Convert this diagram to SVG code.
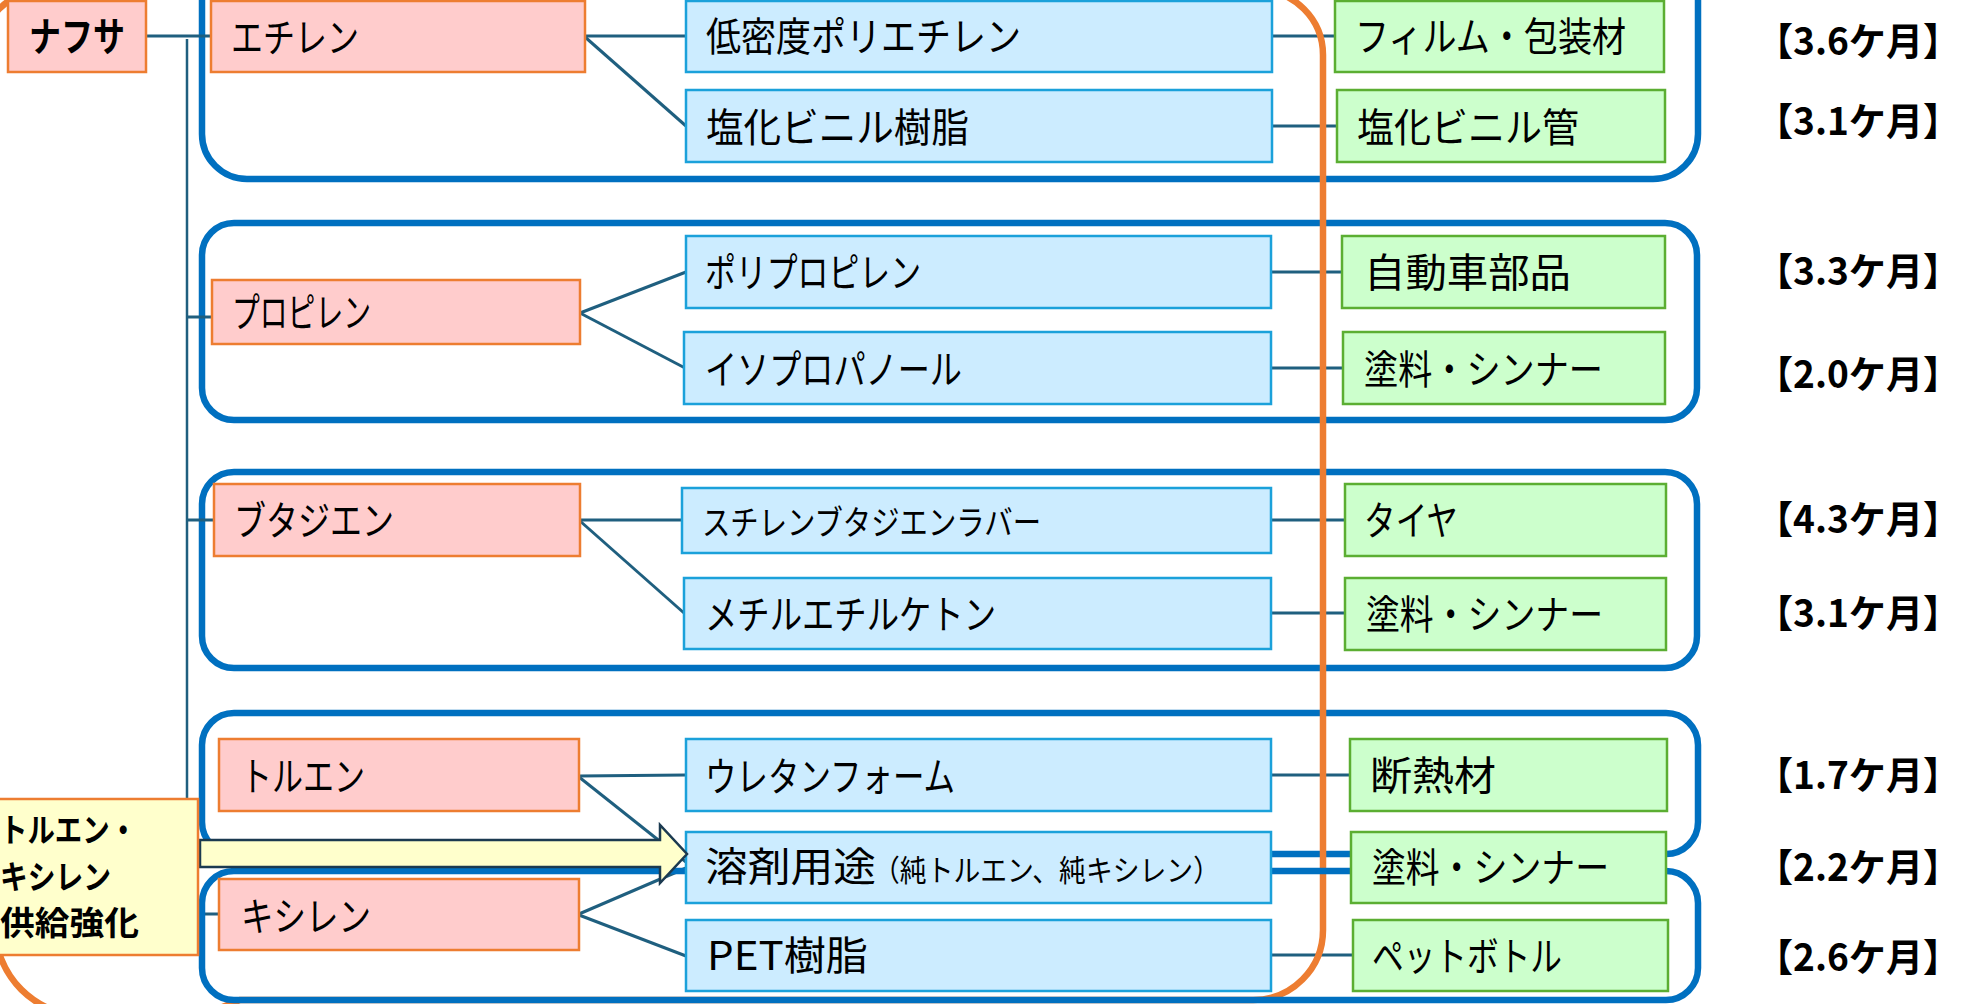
<svg xmlns="http://www.w3.org/2000/svg" width="1968" height="1004" viewBox="0 0 1968 1004">
<style>
.red{fill:#FFCCCC;stroke:#ED7D31;stroke-width:2.5}
.blue{fill:#CCECFF;stroke:#1BA1DA;stroke-width:2.5}
.green{fill:#CCFFCC;stroke:#5BAE32;stroke-width:2.5}
.yel{fill:#FFFFCC;stroke:#ED7D31;stroke-width:2.5}
.grp{fill:none;stroke:#0070C0;stroke-width:6.5}
.conn{stroke:#1F5F7F;stroke-width:3;fill:none}
.orange{fill:none;stroke:#ED7D31;stroke-width:6.5}
.t{font-family:"Noto Sans CJK JP","Noto Sans",sans-serif;font-size:40px;fill:#000}
.b{font-weight:bold}
.m{font-family:"Noto Sans CJK JP","Noto Sans",sans-serif;font-size:38px;font-weight:bold;fill:#000}
</style>
<rect width="1968" height="1004" fill="#FFFFFF"/>
<g id="groups">
<rect class="grp" x="202" y="-60" width="1496" height="239" rx="45"/>
<rect class="grp" x="202" y="223" width="1495" height="197" rx="32"/>
<rect class="grp" x="202" y="472" width="1495" height="196" rx="32"/>
<rect class="grp" x="202" y="713" width="1496" height="141" rx="32"/>
</g>
<g id="connectors">
<path class="conn" d="M146,36 H211"/>
<path class="conn" d="M187,39 V914" style="stroke-width:2.5"/>
<path class="conn" d="M187,317 H212"/>
<path class="conn" d="M187,520 H214"/>
<path class="conn" d="M187,914 H219"/>
<path class="conn" d="M585,36 H686"/>
<path class="conn" d="M585,37 L686,126"/>
<path class="conn" d="M580,313 L686,272"/>
<path class="conn" d="M580,313 L685,368"/>
<path class="conn" d="M580,520 L682,520"/>
<path class="conn" d="M580,521 L684,613"/>
<path class="conn" d="M579,776 L686,775"/>
<path class="conn" d="M579,777 L686,862"/>
<path class="conn" d="M579,914 L686,868"/>
<path class="conn" d="M579,915 L686,956"/>
<path class="conn" d="M1272,36 H1335"/>
<path class="conn" d="M1272,126 H1337"/>
<path class="conn" d="M1271,272 H1342"/>
<path class="conn" d="M1271,368 H1343"/>
<path class="conn" d="M1271,520 H1345"/>
<path class="conn" d="M1271,613 H1345"/>
<path class="conn" d="M1271,775 H1350"/>
<path class="conn" d="M1271,955 H1353"/>
</g>
<g id="orange-frame">
<path class="orange" d="M-20,55 A65,65 0 0 1 45,-10 L1258,-10 A65,65 0 0 1 1323,55 L1323,930 A70,70 0 0 1 1253,1000 L240,1000 L200,1016 L85,1016 A90,90 0 0 1 -5,926 Z"/>
</g>
<g id="group5">
<rect class="grp" x="202" y="871" width="1496" height="129" rx="32"/>
</g>
<g id="naphtha"><rect class="red" x="8" y="1" width="138" height="71"/><text class="t b" x="29" y="51" textLength="96" lengthAdjust="spacingAndGlyphs">ナフサ</text></g>
<g id="ethylene"><rect class="red" x="211" y="1" width="374" height="71"/><text class="t" x="231" y="52" textLength="128" lengthAdjust="spacingAndGlyphs">エチレン</text></g>
<g id="propylene"><rect class="red" x="212" y="280" width="368" height="64"/><text class="t" x="232" y="327" textLength="139" lengthAdjust="spacingAndGlyphs">プロピレン</text></g>
<g id="butadiene"><rect class="red" x="214" y="484" width="366" height="72"/><text class="t" x="234" y="535" textLength="160" lengthAdjust="spacingAndGlyphs">ブタジエン</text></g>
<g id="toluene"><rect class="red" x="219" y="739" width="360" height="72"/><text class="t" x="241" y="791" textLength="124" lengthAdjust="spacingAndGlyphs">トルエン</text></g>
<g id="xylene"><rect class="red" x="219" y="879" width="360" height="71"/><text class="t" x="241" y="931" textLength="130" lengthAdjust="spacingAndGlyphs">キシレン</text></g>
<g id="ldpe"><rect class="blue" x="686" y="1" width="586" height="71"/><text class="t" x="706" y="51" textLength="315" lengthAdjust="spacingAndGlyphs">低密度ポリエチレン</text></g>
<g id="pvc"><rect class="blue" x="686" y="90" width="586" height="72"/><text class="t" x="706" y="142" textLength="263" lengthAdjust="spacingAndGlyphs">塩化ビニル樹脂</text></g>
<g id="pp"><rect class="blue" x="686" y="236" width="585" height="72"/><text class="t" x="705" y="287" textLength="216" lengthAdjust="spacingAndGlyphs">ポリプロピレン</text></g>
<g id="ipa"><rect class="blue" x="684" y="332" width="587" height="72"/><text class="t" x="705" y="384" textLength="257" lengthAdjust="spacingAndGlyphs">イソプロパノール</text></g>
<g id="sbr"><rect class="blue" x="682" y="488" width="589" height="65"/><text class="t" x="702" y="535" style="font-size:34px" textLength="339" lengthAdjust="spacingAndGlyphs">スチレンブタジエンラバー</text></g>
<g id="mek"><rect class="blue" x="684" y="578" width="587" height="71"/><text class="t" x="705" y="629" textLength="291" lengthAdjust="spacingAndGlyphs">メチルエチルケトン</text></g>
<g id="urethane"><rect class="blue" x="686" y="739" width="585" height="72"/><text class="t" x="705" y="791" textLength="250" lengthAdjust="spacingAndGlyphs">ウレタンフォーム</text></g>
<g id="solvent"><rect class="blue" x="686" y="832" width="585" height="71"/><text class="t" x="705" y="881" textLength="171" lengthAdjust="spacingAndGlyphs">溶剤用途</text><text class="t" x="873" y="881" style="font-size:30px" textLength="347" lengthAdjust="spacingAndGlyphs">（純トルエン、純キシレン）</text></g>
<g id="pet"><rect class="blue" x="686" y="920" width="585" height="71"/><text class="t" x="707" y="970" textLength="161" lengthAdjust="spacingAndGlyphs">PET樹脂</text></g>
<g id="film"><rect class="green" x="1335" y="1" width="329" height="71"/><text class="t" x="1355" y="51" textLength="271" lengthAdjust="spacingAndGlyphs">フィルム・包装材</text></g>
<g id="pvc-pipe"><rect class="green" x="1337" y="90" width="328" height="72"/><text class="t" x="1357" y="142" textLength="222" lengthAdjust="spacingAndGlyphs">塩化ビニル管</text></g>
<g id="auto-parts"><rect class="green" x="1342" y="236" width="323" height="72"/><text class="t" x="1364" y="287" textLength="207" lengthAdjust="spacingAndGlyphs">自動車部品</text></g>
<g id="paint1"><rect class="green" x="1343" y="332" width="322" height="72"/><text class="t" x="1364" y="384" textLength="239" lengthAdjust="spacingAndGlyphs">塗料・シンナー</text></g>
<g id="tire"><rect class="green" x="1345" y="484" width="321" height="72"/><text class="t" x="1364" y="535" textLength="94" lengthAdjust="spacingAndGlyphs">タイヤ</text></g>
<g id="paint2"><rect class="green" x="1345" y="578" width="321" height="72"/><text class="t" x="1366" y="629" textLength="237" lengthAdjust="spacingAndGlyphs">塗料・シンナー</text></g>
<g id="insulation"><rect class="green" x="1350" y="739" width="317" height="72"/><text class="t" x="1370" y="790" textLength="126" lengthAdjust="spacingAndGlyphs">断熱材</text></g>
<g id="paint3"><rect class="green" x="1351" y="832" width="315" height="71"/><text class="t" x="1372" y="882" textLength="237" lengthAdjust="spacingAndGlyphs">塗料・シンナー</text></g>
<g id="bottle"><rect class="green" x="1353" y="920" width="315" height="71"/><text class="t" x="1372" y="971" textLength="190" lengthAdjust="spacingAndGlyphs">ペットボトル</text></g>
<g id="supply-arrow"><polygon points="200,840 660,840 660,825 687,854 660,883 660,867 200,867" fill="#FFFFCC" stroke="#1B3A50" stroke-width="2.5" stroke-linejoin="miter"/></g>
<g id="supply-box"><rect class="yel" x="-10" y="799" width="208" height="156"/>
<text class="t b" style="font-size:33px" x="0" y="842" textLength="137" lengthAdjust="spacingAndGlyphs">トルエン・</text>
<text class="t b" style="font-size:33px" x="0" y="889" textLength="111" lengthAdjust="spacingAndGlyphs">キシレン</text>
<text class="t b" style="font-size:33px" x="0" y="935" textLength="139" lengthAdjust="spacingAndGlyphs">供給強化</text></g>
<g id="durations">
<text class="m" x="1756" y="55" textLength="204" lengthAdjust="spacingAndGlyphs">【3.6ケ月】</text>
<text class="m" x="1756" y="135" textLength="204" lengthAdjust="spacingAndGlyphs">【3.1ケ月】</text>
<text class="m" x="1756" y="285" textLength="204" lengthAdjust="spacingAndGlyphs">【3.3ケ月】</text>
<text class="m" x="1756" y="388" textLength="204" lengthAdjust="spacingAndGlyphs">【2.0ケ月】</text>
<text class="m" x="1756" y="533" textLength="204" lengthAdjust="spacingAndGlyphs">【4.3ケ月】</text>
<text class="m" x="1756" y="627" textLength="204" lengthAdjust="spacingAndGlyphs">【3.1ケ月】</text>
<text class="m" x="1756" y="789" textLength="204" lengthAdjust="spacingAndGlyphs">【1.7ケ月】</text>
<text class="m" x="1756" y="881" textLength="204" lengthAdjust="spacingAndGlyphs">【2.2ケ月】</text>
<text class="m" x="1756" y="971" textLength="204" lengthAdjust="spacingAndGlyphs">【2.6ケ月】</text>
</g>
</svg>
